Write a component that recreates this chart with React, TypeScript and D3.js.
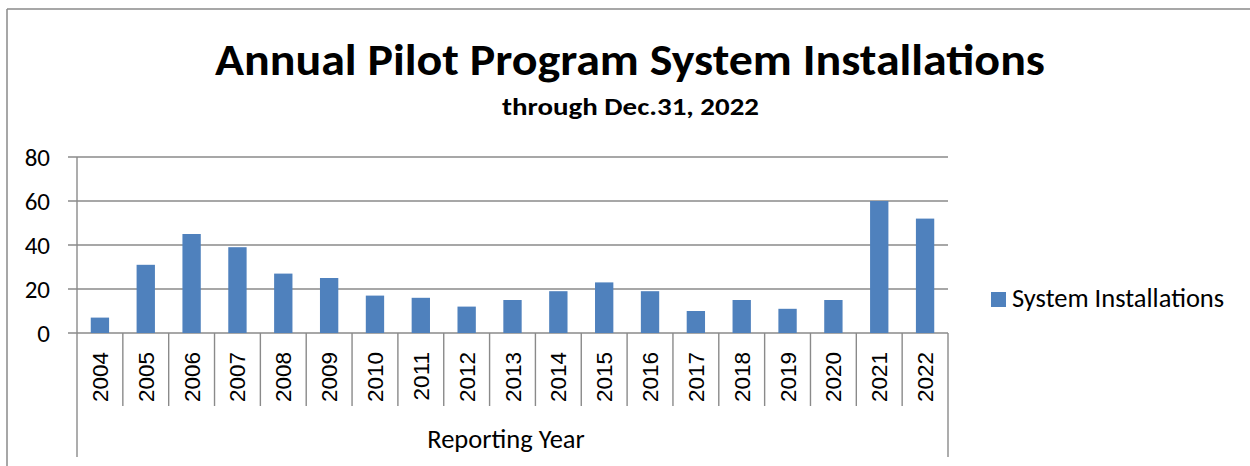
import React from "react";
import * as d3 from "d3";

const years = ["2004","2005","2006","2007","2008","2009","2010","2011","2012","2013","2014","2015","2016","2017","2018","2019","2020","2021","2022"];
const installations = [7,31,45,39,27,25,17,16,12,15,19,23,19,10,15,11,15,60,52];
const yTicks = [0,20,40,60,80];
const seriesName = "System Installations";
const titleText = "Annual Pilot Program System Installations";
const subtitleText = "through Dec.31, 2022";
const xAxisTitle = "Reporting Year";

const W = 1250, H = 466;
const left = 77, right = 948, top = 157, bottom = 333;
const GRID = "#8a8a8a";
const BAR = "#4F81BD";
const SANS = "Carlito, Lato, 'Open Sans', sans-serif";

export default function App() {
  const x = d3.scaleBand<string>().domain(years).range([left, right]).paddingInner(0.6).paddingOuter(0.3);
  const y = d3.scaleLinear().domain([0, 80]).range([bottom, top]);
  const step = (right - left) / years.length;
  const seps = d3.range(years.length + 1).map(i => left + i * step);

  return (
    <svg width={W} height={H} style={{ position: "absolute", left: 0, top: 0, background: "#fff" }}>
      <rect x={0} y={0} width={W} height={H} fill="#fff" />
      {/* outer frame */}
      <line x1={7} y1={9} x2={W + 5} y2={9} stroke={GRID} strokeWidth={1.5} />
      <line x1={7} y1={9} x2={7} y2={H + 5} stroke={GRID} strokeWidth={1.5} />

      <text x={630} y={75} textAnchor="middle" fontFamily={SANS} fontWeight="bold" fontSize={44} textLength={830} lengthAdjust="spacingAndGlyphs">{titleText}</text>
      <text x={630.5} y={115} textAnchor="middle" fontFamily={SANS} fontWeight="bold" fontSize={25} textLength={257} lengthAdjust="spacingAndGlyphs">{subtitleText}</text>

      {/* gridlines + y ticks */}
      {yTicks.map(t => (
        <g key={t}>
          <line x1={68} x2={right} y1={y(t)} y2={y(t)} stroke={GRID} strokeWidth={1.4} />
          <text x={50} y={y(t)} dy="0.36em" textAnchor="end" fontFamily={SANS} fontSize={25} fill="#000">{t}</text>
        </g>
      ))}
      <line x1={left} x2={left} y1={top} y2={bottom} stroke={GRID} strokeWidth={1.4} />

      {/* bars */}
      {years.map((yr, i) => (
        <rect key={yr} x={x(yr)} y={y(installations[i])} width={x.bandwidth()} height={y(0) - y(installations[i])} fill={BAR} />
      ))}

      {/* category separators */}
      {seps.map((sx, i) => (
        <line key={i} x1={sx} x2={sx} y1={bottom} y2={i === 0 || i === years.length ? 457 : 406} stroke={GRID} strokeWidth={1.4} />
      ))}

      {/* year labels */}
      {years.map(yr => {
        const cx = (x(yr) as number) + x.bandwidth() / 2;
        return (
          <text key={yr} transform={`translate(${cx + 8},352) rotate(-90)`} textAnchor="end" fontFamily="'Liberation Sans', Arial, sans-serif" fontSize={22.5} fill="#000">{yr}</text>
        );
      })}

      <text x={506} y={448} textAnchor="middle" fontFamily={SANS} fontSize={26.5} fill="#000">{xAxisTitle}</text>

      {/* legend */}
      <rect x={991} y={292} width={15} height={15} fill={BAR} />
      <text x={1012} y={307} fontFamily={SANS} fontSize={26.5} fill="#000">{seriesName}</text>
    </svg>
  );
}
